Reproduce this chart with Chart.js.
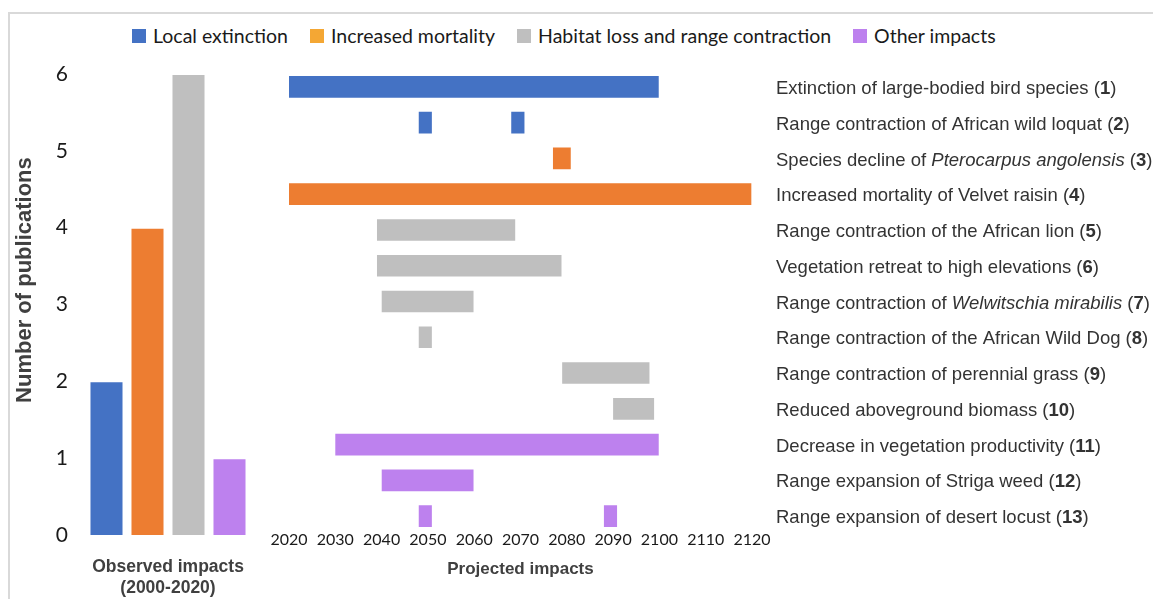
<!DOCTYPE html>
<html><head><meta charset="utf-8">
<script src="https://cdn.jsdelivr.net/npm/chart.js@4"></script>
<style>
html,body{margin:0;padding:0;background:#fff;width:1153px;height:599px;overflow:hidden;position:relative;}
#frame{position:absolute;left:8px;top:12px;width:1200px;height:700px;border-top:2px solid #d9d9d9;border-left:2px solid #d9d9d9;}
#legend{position:absolute;left:132px;top:24px;display:flex;align-items:center;font-family:Lato,sans-serif;font-size:19.5px;color:#1a1a1a;white-space:nowrap;}
.item{display:flex;align-items:center;margin-right:22px;}
.sw{width:14px;height:14px;margin-right:7px;}
#left{position:absolute;left:0;top:60px;width:265px;height:539px;}
#right{position:absolute;left:265px;top:60px;width:888px;height:539px;}
</style></head><body>
<div id="frame"></div>
<div id="legend"></div>
<div id="left"><canvas id="c1"></canvas></div>
<div id="right"><canvas id="c2"></canvas></div>
<script>
// ---- data ----
const categories = ['Local extinction', 'Increased mortality', 'Habitat loss and range contraction', 'Other impacts'];
const barColors = ['#4472c4', '#ed7d31', '#bfbfbf', '#bd81ee'];
const legendColors = ['#4472c4', '#f4a734', '#bfbfbf', '#bd81ee'];
const observedCounts = [2, 4, 6, 1];
const yTicks = [0, 1, 2, 3, 4, 5, 6];
const yearTicks = [2020, 2030, 2040, 2050, 2060, 2070, 2080, 2090, 2100, 2110, 2120];

const rowLabels = [
  'Extinction of large-bodied bird species (*1*)',
  'Range contraction of African wild loquat (*2*)',
  'Species decline of _Pterocarpus angolensis_ (*3*)',
  'Increased mortality of Velvet raisin (*4*)',
  'Range contraction of the African lion (*5*)',
  'Vegetation retreat to high elevations (*6*)',
  'Range contraction of _Welwitschia mirabilis_ (*7*)',
  'Range contraction of the African Wild Dog (*8*)',
  'Range contraction of perennial grass (*9*)',
  'Reduced aboveground biomass (*10*)',
  'Decrease in vegetation productivity (*11*)',
  'Range expansion of Striga weed (*12*)',
  'Range expansion of desert locust (*13*)'
];
const localExtinction  = [[2020,2100],[2048,2051],null,null,null,null,null,null,null,null,null,null,null];
const localExtinctionB = [null,[2068,2071],null,null,null,null,null,null,null,null,null,null,null];
const increasedMortality = [null,null,[2077,2081],[2020,2120],null,null,null,null,null,null,null,null,null];
const habitatLoss = [null,null,null,null,[2039,2069],[2039,2079],[2040,2060],[2048,2051],[2079,2098],[2090,2099],null,null,null];
const otherImpacts  = [null,null,null,null,null,null,null,null,null,null,[2030,2100],[2040,2060],[2048,2051]];
const otherImpactsB = [null,null,null,null,null,null,null,null,null,null,null,null,[2088,2091]];

// ---- legend ----
const lg = document.getElementById('legend');
categories.forEach((c, i) => {
  const it = document.createElement('div'); it.className = 'item';
  const sw = document.createElement('div'); sw.className = 'sw'; sw.style.background = legendColors[i];
  const tx = document.createElement('span'); tx.textContent = c;
  it.appendChild(sw); it.appendChild(tx); lg.appendChild(it);
});

const plainLabels = rowLabels.map(s => s.replace(/[*_]/g, ''));
const ARIAL = '"Liberation Sans", Arial, sans-serif';

// ---- left chart: observed ----
new Chart(document.getElementById('c1'), {
  type: 'bar',
  data: {
    labels: categories,
    datasets: [{
      data: observedCounts,
      backgroundColor: barColors,
      borderColor: 'rgba(255,255,255,0.45)',
      borderWidth: 1,
      barPercentage: 0.83,
      categoryPercentage: 1
    }]
  },
  options: {
    responsive: true, maintainAspectRatio: false, animation: false,
    layout: { padding: { top: 14, right: 15, left: 0, bottom: 0 } },
    plugins: { legend: { display: false }, tooltip: { enabled: false } },
    scales: {
      x: {
        ticks: { display: false },
        grid: { display: false }, border: { display: false },
        title: { display: true, text: ['Observed impacts', '(2000-2020)'], color: '#404040',
                 font: { family: ARIAL, size: 17.5, weight: 'bold' }, padding: { top: 0, bottom: 0 } },
        afterFit: s => { s.height = 64; s.paddingLeft = 0; s.paddingRight = 0; }
      },
      y: {
        min: 0, max: 6,
        afterBuildTicks: s => { s.ticks = yTicks.map(v => ({ value: v })); },
        ticks: { color: '#1a1a1a', font: { family: 'Lato', size: 21 }, padding: 10 },
        grid: { display: false }, border: { display: false },
        title: { display: true, text: '        Number of publications', color: '#404040',
                 font: { family: ARIAL, size: 22, weight: 'bold' }, padding: { top: 12, bottom: 0 } },
        afterFit: s => { s.width = 86; s.paddingTop = 0; s.paddingBottom = 0; }
      }
    }
  }
});

// ---- right chart: projected ----
const richLabels = {
  id: 'richLabels',
  afterDraw(chart) {
    const { ctx, scales: { x, y } } = chart;
    ctx.save();
    ctx.textBaseline = 'middle';
    ctx.fillStyle = '#333333';
    rowLabels.forEach((lab, i) => {
      let px = x.right + 24;
      const py = y.getPixelForValue(i) + 2;
      lab.split(/(\*[^*]+\*|_[^_]+_)/).filter(s => s).forEach(seg => {
        let style = '', t = seg;
        if (seg.startsWith('*')) { style = 'bold '; t = seg.slice(1, -1); }
        else if (seg.startsWith('_')) { style = 'italic '; t = seg.slice(1, -1); }
        ctx.font = style + '18.5px ' + ARIAL;
        ctx.fillText(t, px, py);
        px += ctx.measureText(t).width;
      });
    });
    ctx.restore();
  }
};

function ds(data, ci) {
  return { label: categories[ci], data, backgroundColor: barColors[ci],
           borderColor: 'rgba(255,255,255,0.45)', borderWidth: 1,
           grouped: false, barThickness: 23 };
}

new Chart(document.getElementById('c2'), {
  type: 'bar',
  data: {
    labels: plainLabels,
    datasets: [
      ds(localExtinction, 0), ds(localExtinctionB, 0),
      ds(increasedMortality, 1),
      ds(habitatLoss, 2),
      ds(otherImpacts, 3), ds(otherImpactsB, 3)
    ]
  },
  options: {
    indexAxis: 'y',
    responsive: true, maintainAspectRatio: false, animation: false,
    layout: { padding: { top: 9, right: 401, left: 24, bottom: 0 } },
    plugins: { legend: { display: false }, tooltip: { enabled: false } },
    scales: {
      x: {
        type: 'linear', min: 2020, max: 2120,
        afterBuildTicks: s => { s.ticks = yearTicks.map(v => ({ value: v })); },
        ticks: { color: '#1a1a1a', font: { family: 'Lato', size: 16 }, padding: -12, maxRotation: 0, autoSkip: false,
                 callback: v => String(v) },
        grid: { display: false }, border: { display: false },
        title: { display: true, text: 'Projected impacts', color: '#404040',
                 font: { family: ARIAL, size: 17, weight: 'bold' }, padding: { top: 0, bottom: 19 } },
        afterFit: s => { s.height = 65; }
      },
      y: { display: false, offset: true }
    }
  },
  plugins: [richLabels]
});
</script>
</body></html>
